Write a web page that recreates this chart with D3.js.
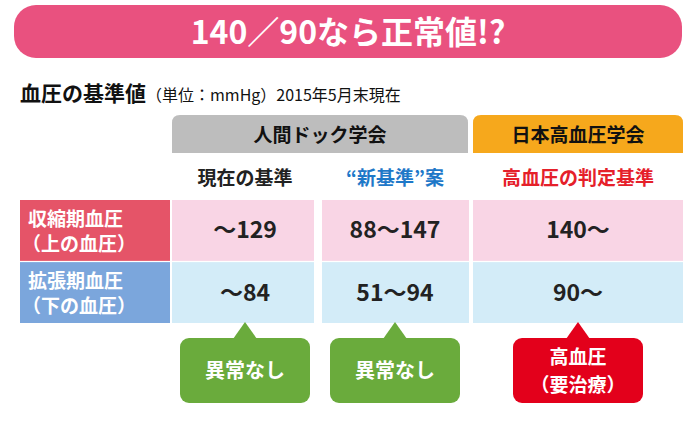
<!DOCTYPE html>
<html><head><meta charset="utf-8">
<script src="https://cdn.jsdelivr.net/npm/d3@7"></script>
<style>body{margin:0;background:#fff}text{font-family:"Noto Sans CJK JP",sans-serif}</style>
</head><body><svg id="c" width="700" height="421"></svg>
<script>
const title = '140／90なら正常値!?';
const groups = [{name:'人間ドック学会', cols:[0,1], color:'#bdbdbd'}, {name:'日本高血圧学会', cols:[2,2], color:'#f6a81c'}];
const columns = ['現在の基準', '“新基準”案', '高血圧の判定基準'];
const columnColors = ['#222', '#1e78c8', '#e5202a'];
const rowLabels = [['収縮期血圧','（上の血圧）'], ['拡張期血圧','（下の血圧）']];
const rowColors = ['#e55468', '#7ba6dc'];
const rowFills = ['#f9d5e5', '#d3ecf8'];
const values = [['～129','88～147','140～'], ['～84','51～94','90～']];
const verdicts = [['異常なし'], ['異常なし'], ['高血圧','（要治療）']];
const verdictColors = ['#6aab3c', '#6aab3c', '#e3001b'];

const svg = d3.select('#c');
// title bar
svg.append('rect').attr('x',14).attr('y',5).attr('width',668).attr('height',53).attr('rx',22).attr('fill','#e9517f');
svg.append('text').attr('x',348).attr('y',44).attr('text-anchor','middle').attr('fill','#fff')
  .attr('font-size',32).attr('font-weight','bold').text(title);
const sub = svg.append('text').attr('x',20).attr('y',101).attr('fill','#111').attr('font-weight','bold');
sub.append('tspan').attr('font-size',21).text('血圧の基準値');
sub.append('tspan').attr('font-size',16).attr('font-weight','normal').text('（単位：mmHg）2015年5月末現在');

const x = d3.scaleOrdinal().domain([0,1,2]).range([172,322,473]);
const w = d3.scaleOrdinal().domain([0,1,2]).range([146,146,210]);
const y = d3.scaleBand().domain([0,1]).range([200,323]).paddingInner(0.02);

// group headers
groups.forEach(g => {
  const x0 = x(g.cols[0]), x1 = x(g.cols[1]) + w(g.cols[1]);
  svg.append('path').attr('fill', g.color)
    .attr('d', `M${x0},153 V123 Q${x0},115 ${x0+8},115 H${x1-8} Q${x1},115 ${x1},123 V153 Z`);
  svg.append('text').attr('x',(x0+x1)/2).attr('y',142).attr('text-anchor','middle')
    .attr('font-size',19).attr('font-weight','bold').attr('fill','#111').text(g.name);
});
columns.forEach((c,i) => {
  svg.append('text').attr('x', x(i)+w(i)/2).attr('y',185).attr('text-anchor','middle')
    .attr('font-size',19).attr('font-weight','bold').attr('fill',columnColors[i]).text(c);
});
// rows
values.forEach((row, r) => {
  svg.append('rect').attr('x',20).attr('y',y(r)).attr('width',150).attr('height',y.bandwidth()).attr('fill',rowColors[r]);
  rowLabels[r].forEach((t,k) => svg.append('text').attr('x', k ? 22 : 28).attr('y', y(r)+26+k*25)
    .attr('font-size',19).attr('font-weight','bold').attr('fill','#fff').text(t));
  row.forEach((v,i) => {
    svg.append('rect').attr('x',x(i)).attr('y',y(r)).attr('width',w(i)-(i<2?4:0)+(i==1?5:0)).attr('height',y.bandwidth()).attr('fill',rowFills[r]);
    svg.append('text').attr('x', x(i)+w(i)/2).attr('y', y(r)+y.bandwidth()/2+8).attr('text-anchor','middle')
      .attr('font-size',23).attr('font-weight','bold').attr('fill','#222').text(v);
  });
});
// verdict callouts
verdicts.forEach((lines,i) => {
  const cx = x(i)+w(i)/2, bw = 130, top = 338;
  svg.append('rect').attr('x',cx-bw/2).attr('y',top).attr('width',bw).attr('height',65).attr('rx',9).attr('fill',verdictColors[i]);
  svg.append('path').attr('d',`M${cx-12},${top+1} L${cx},${top-16} L${cx+12},${top+1} Z`).attr('fill',verdictColors[i]);
  lines.forEach((t,k) => svg.append('text').attr('x',cx).attr('y', lines.length>1 ? top+26+k*28 : top+40)
    .attr('text-anchor','middle').attr('font-size',lines.length>1 ? 19 : 20).attr('font-weight','bold').attr('fill','#fff').text(t));
});
</script></body></html>
